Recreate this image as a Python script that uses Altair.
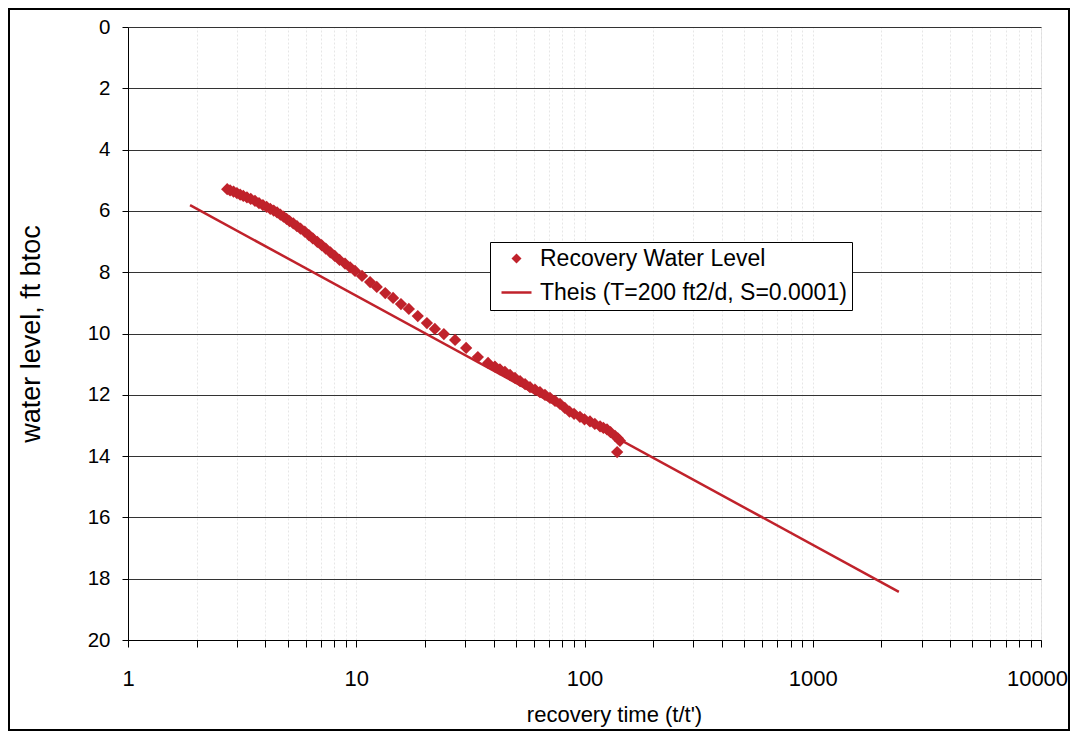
import altair as alt
import pandas as pd

RED = "#C0222B"

# Recovery data (t/t', water level ft btoc)
rec_t = [2.72, 2.80, 2.90, 3.00, 3.10, 3.20, 3.32, 3.45, 3.60, 3.75, 3.90, 4.05, 4.20,
         4.35, 4.50, 4.65, 4.80, 4.95, 5.10, 5.30, 5.50, 5.70, 5.95, 6.20, 6.45, 6.75,
         7.05, 7.35, 7.70, 8.05, 8.45, 8.93, 9.40, 9.88, 10.6, 11.5, 12.3, 13.4, 14.5,
         15.7, 17.0, 18.6, 20.4, 22.1, 24.2, 27.1, 30.3, 34.1, 37.8, 40.5, 42.6, 44.8,
         47.2, 49.6, 52.2, 54.9, 57.7, 60.7, 63.8, 67.1, 70.6, 74.3, 78.1, 82.0, 86.0,
         90.0, 95.5, 100.0, 105.7, 111.0, 117.0, 121.0, 125.5, 130.0, 136.0, 140.0,
         143.0, 139.0]
rec_wl = [5.29, 5.33, 5.37, 5.42, 5.47, 5.51, 5.56, 5.61, 5.67, 5.75, 5.81, 5.87, 5.93,
          5.99, 6.05, 6.12, 6.19, 6.26, 6.33, 6.41, 6.50, 6.58, 6.68, 6.79, 6.90, 7.01,
          7.12, 7.23, 7.35, 7.47, 7.60, 7.72, 7.84, 7.96, 8.12, 8.32, 8.48, 8.68, 8.84,
          9.04, 9.20, 9.43, 9.66, 9.85, 10.02, 10.21, 10.47, 10.77, 10.96, 11.08, 11.17,
          11.25, 11.35, 11.45, 11.55, 11.65, 11.75, 11.83, 11.91, 12.00, 12.10, 12.20,
          12.30, 12.43, 12.55, 12.62, 12.72, 12.80, 12.87, 12.95, 13.03, 13.08, 13.13,
          13.22, 13.34, 13.42, 13.50, 13.87]

# Theis straight-line solution
theis_t = [1.87, 2384.0]
theis_wl = [5.81, 18.43]

series_names = ["Recovery Water Level", "Theis (T=200 ft2/d, S=0.0001)"]

x_ticks = [1, 2, 3, 4, 5, 6, 7, 8, 9,
           10, 20, 30, 40, 50, 60, 70, 80, 90,
           100, 200, 300, 400, 500, 600, 700, 800, 900,
           1000, 2000, 3000, 4000, 5000, 6000, 7000, 8000, 9000, 10000]
x_labels = [1, 10, 100, 1000, 10000]
y_ticks = [0, 2, 4, 6, 8, 10, 12, 14, 16, 18, 20]

pts = pd.DataFrame({"t": rec_t, "wl": rec_wl, "series": series_names[0]})
theis = pd.DataFrame({"t": theis_t, "wl": theis_wl})

label_test = " || ".join(f"datum.value == {v}" for v in x_labels)

xscale = alt.Scale(type="log", domain=[1, 10000], nice=False)
yscale = alt.Scale(domain=[0, 20], reverse=True, nice=False)

xaxis = alt.Axis(values=x_ticks, format="d", labelExpr=f"({label_test}) ? datum.label : ''",
                 labelOverlap=False, tickSize=7, tickColor="black", domainColor="black",
                 labelFontSize=22, labelPadding=21, titleFontSize=22, titlePadding=15,
                 labelOffset={"condition": {"test": "datum.value == 10000", "value": -4},
                              "value": 0},
                 titleX=486, titleAlign="center",
                 grid=True, gridColor="#e6e6e6", gridDash=[2, 2], labelColor="black",
                 titleColor="black", titleFontWeight="normal", labelFlush=False)
yaxis = alt.Axis(values=y_ticks, tickSize=6, tickColor="black", domainColor="black",
                 labelFontSize=20.5, labelPadding=12, grid=True, gridColor="#333333",
                 titleFontSize=27, titlePadding=42, titleFontWeight="normal",
                 labelColor="black", titleColor="black")

legend = alt.Legend(title=None, orient="none", legendX=362, legendY=215,
                    strokeColor="black", fillColor="white", padding=5,
                    labelFontSize=23, labelColor="black", labelLimit=0, symbolSize=100,
                    symbolOffset=10, labelOffset=12, rowPadding=10)

points = alt.Chart(pts).mark_point(filled=True, size=150, opacity=1).encode(
    x=alt.X("t:Q", scale=xscale, axis=xaxis, title="recovery time (t/t')"),
    y=alt.Y("wl:Q", scale=yscale, axis=yaxis, title="water level, ft btoc"),
    color=alt.Color("series:N", scale=alt.Scale(domain=series_names, range=[RED, RED]),
                    legend=legend),
    shape=alt.Shape("series:N",
                    scale=alt.Scale(domain=series_names,
                                    range=["M-1,0L0,-1L1,0L0,1Z",
                                           "M-3,-0.25H3V0.25H-3Z"]),
                    legend=legend),
)

line = alt.Chart(theis).mark_line(color=RED, strokeWidth=2.5).encode(
    x=alt.X("t:Q", scale=xscale),
    y=alt.Y("wl:Q", scale=yscale),
)

frame = alt.Chart(alt.Data(values=[{}])).mark_rect(
    fill="transparent", stroke="black", strokeWidth=2, clip=False
).encode(x=alt.value(-119), x2=alt.value(941), y=alt.value(-18), y2=alt.value(703))

chart = alt.layer(line, points, frame).properties(
    width=913, height=613,
    autosize=alt.AutoSizeParams(type="none"),
    padding={"left": 120, "top": 19, "right": 29, "bottom": 91},
    background="white",
).configure_view(stroke="#333333", strokeWidth=1).configure(
    font="Liberation Sans"
)

chart.save("out.html", embed_options={"renderer": "svg", "actions": False})
